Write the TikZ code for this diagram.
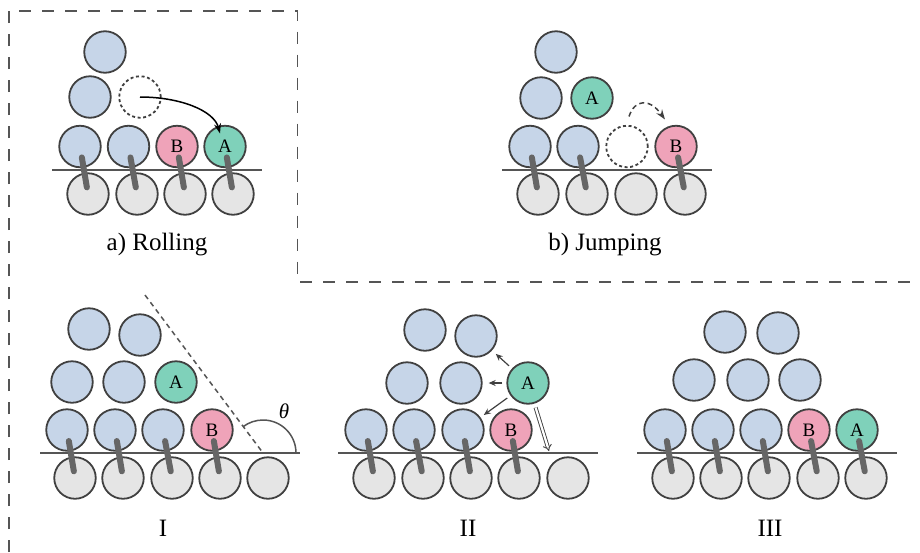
\documentclass[tikz,border=0pt]{standalone}
\usepackage{fontspec}
\setmainfont{Liberation Serif}
\usetikzlibrary{calc,arrows.meta}
\definecolor{edge}{HTML}{404040}
\definecolor{ballblue}{HTML}{C6D5E8}
\definecolor{ballgray}{HTML}{E5E5E5}
\definecolor{ballpink}{HTML}{EFA3B9}
\definecolor{ballgreen}{HTML}{7FD1BA}
\definecolor{stickgray}{HTML}{666666}
\definecolor{linegray}{HTML}{555555}
\tikzset{
  ball/.style={circle,draw=edge,line width=1.8pt,minimum size=41.5pt,inner sep=0pt,font=\fontsize{19}{19}\selectfont},
  blueb/.style={ball,fill=ballblue},
  grayb/.style={ball,fill=ballgray},
  pinkb/.style={ball,fill=ballpink},
  greenb/.style={ball,fill=ballgreen},
  ghost/.style={ball,dash pattern=on 3pt off 2.6pt},
  stick/.style={draw=stickgray,line width=6pt,line cap=round},
  ground/.style={draw=linegray,line width=1.5pt},
  frame/.style={draw=linegray,line width=1.8pt,dash pattern=on 12pt off 11pt},
  lbl/.style={font=\fontsize{25}{25}\selectfont,anchor=base,inner sep=0pt},
  bigarrow/.style={draw=black,line width=1.5pt,-{Stealth[length=10pt,width=7pt]}},
  jumparrow/.style={draw=edge,line width=1.5pt,dash pattern=on 5pt off 3.5pt,-{Stealth[length=10pt,width=7pt]}},
  smallarrow/.style={draw=edge,line width=1.2pt,-{Stealth[length=7pt,width=6pt]}},
  dblarrow/.style={draw=edge,double=white,line width=0.9pt,double distance=2.2pt,-{Implies}},
  slope/.style={draw=linegray,line width=1.5pt,dash pattern=on 5pt off 4pt},
  anglearc/.style={draw=linegray,line width=1.5pt},
}
\newcommand\stk[2]{\draw[stick] ($(#1)!0.23!(#2)$) -- ($(#1)!0.86!(#2)$);}
\begin{document}
\begin{tikzpicture}[x=1pt,y=-1pt]
\useasboundingbox (0,0) rectangle (920,552);
% frame
\draw[frame] (8.7,552) -- (8.7,10.7) -- (297.5,10.7) -- (297.5,282) -- (920,282);

% ---------- a) Rolling ----------
\node[grayb] (ag1) at (88,194) {};
\node[grayb] (ag2) at (137,194) {};
\node[grayb] (ag3) at (185,194) {};
\node[grayb] (ag4) at (233,194) {};
\node[blueb] (ar1) at (80,146.5) {};
\node[blueb] (ar2) at (128.5,146.5) {};
\node[pinkb] (aB) at (177,146.5) {B};
\node[greenb] (aA) at (225,146.5) {A};
\node[blueb] (as1) at (90,97) {};
\node[ghost] (aghost) at (140,97) {};
\node[blueb] (at1) at (105,52) {};
\coordinate (agl) at (52,170);
\coordinate (agr) at (262,170);
\draw[ground] (agl) -- (agr);
\stk{ar1}{ag1}\stk{ar2}{ag2}\stk{aB}{ag3}\stk{aA}{ag4}
\draw[bigarrow] (aghost.center) .. controls ($(aghost.center)+(40,0)$) and ($(aA.center)+(-11,-36)$) .. ($(aA.center)+(-5,-13)$);
\node[lbl] (alab) at (157,250) {a) Rolling};

% ---------- b) Jumping ----------
\node[grayb] (bg1) at (538,194) {};
\node[grayb] (bg2) at (587,194) {};
\node[grayb] (bg3) at (636,194) {};
\node[grayb] (bg4) at (685,194) {};
\node[blueb] (br1) at (530,146.5) {};
\node[blueb] (br2) at (578,146.5) {};
\node[ghost] (bghost) at (627,146.5) {};
\node[pinkb] (bB) at (676,146.5) {B};
\node[blueb] (bs1) at (541,98) {};
\node[greenb] (bA) at (592,98) {A};
\node[blueb] (bt1) at (556,52) {};
\coordinate (bgl) at (502,170);
\coordinate (bgr) at (712,170);
\draw[ground] (bgl) -- (bgr);
\stk{br1}{bg1}\stk{br2}{bg2}\stk{bB}{bg4}
\draw[jumparrow] ($(bghost.center)+(2,-30)$) .. controls ($(bghost.center)+(8,-48)$) and ($(bB.center)+(-26,-48)$) .. ($(bB.center)+(-11,-27)$);
\node[lbl] (blab) at (605,250) {b) Jumping};

% ---------- I ----------
\node[grayb] (ig1) at (75,478) {};
\node[grayb] (ig2) at (123,478) {};
\node[grayb] (ig3) at (172,478) {};
\node[grayb] (ig4) at (220,478) {};
\node[grayb] (ig5) at (268,478) {};
\node[blueb] (ir1) at (67,430) {};
\node[blueb] (ir2) at (115,430) {};
\node[blueb] (ir3) at (163,430) {};
\node[pinkb] (iB) at (212,430) {B};
\node[blueb] (is1) at (72,382) {};
\node[blueb] (is2) at (124,382) {};
\node[greenb] (iA) at (176,382) {A};
\node[blueb] (it1) at (89,329) {};
\node[blueb] (it2) at (140,335) {};
\coordinate (igl) at (40,453);
\coordinate (igr) at (300,453);
\draw[ground] (igl) -- (igr);
\stk{ir1}{ig1}\stk{ir2}{ig2}\stk{ir3}{ig3}\stk{iB}{ig4}
\coordinate (slopetop) at (145,295);
\coordinate (thetaC) at (263,453);
\draw[slope] (slopetop) -- (thetaC);
\draw[anglearc] ($(thetaC)+(33,0)$) arc[start angle=0,end angle=-127,radius=33];
\node[font=\fontsize{21}{21}\selectfont\itshape] (theta) at (284,411) {θ};
\node[lbl] (ilab) at (163,536) {I};

% ---------- II ----------
\node[grayb] (jg1) at (374,478) {};
\node[grayb] (jg2) at (423,478) {};
\node[grayb] (jg3) at (471,478) {};
\node[grayb] (jg4) at (519,478) {};
\node[grayb] (jg5) at (568,478) {};
\node[blueb] (jr1) at (366,430) {};
\node[blueb] (jr2) at (414,430) {};
\node[blueb] (jr3) at (463,430) {};
\node[pinkb] (jB) at (511,430) {B};
\node[blueb] (js1) at (407,383) {};
\node[blueb] (js2) at (461,383) {};
\node[greenb] (jA) at (528,383) {A};
\node[blueb] (jt1) at (425,330) {};
\node[blueb] (jt2) at (476,336) {};
\coordinate (jgl) at (338,453);
\coordinate (jgr) at (598,453);
\draw[ground] (jgl) -- (jgr);
\stk{jr1}{jg1}\stk{jr2}{jg2}\stk{jr3}{jg3}\stk{jB}{jg4}
\draw[smallarrow,shorten <=4pt,shorten >=5pt] (jA) -- (jt2);
\draw[smallarrow,shorten <=4pt,shorten >=6pt] (jA) -- (js2);
\draw[smallarrow,shorten <=4pt,shorten >=4pt] (jA) -- (jr3);
\coordinate (jdrop) at (549,451);
\draw[dblarrow,shorten <=4pt] (jA) -- (jdrop);
\node[lbl] (jlab) at (468,536) {II};

% ---------- III ----------
\node[grayb] (kg1) at (673,478) {};
\node[grayb] (kg2) at (721,478) {};
\node[grayb] (kg3) at (769,478) {};
\node[grayb] (kg4) at (818,478) {};
\node[grayb] (kg5) at (866,478) {};
\node[blueb] (kr1) at (665,430) {};
\node[blueb] (kr2) at (713,430) {};
\node[blueb] (kr3) at (761,430) {};
\node[pinkb] (kB) at (809,430) {B};
\node[greenb] (kA) at (857,430) {A};
\node[blueb] (ks1) at (694,380) {};
\node[blueb] (ks2) at (748,380) {};
\node[blueb] (ks3) at (800,380) {};
\node[blueb] (kt1) at (725,332) {};
\node[blueb] (kt2) at (778,333) {};
\coordinate (kgl) at (637,453);
\coordinate (kgr) at (897,453);
\draw[ground] (kgl) -- (kgr);
\stk{kr1}{kg1}\stk{kr2}{kg2}\stk{kr3}{kg3}\stk{kB}{kg4}\stk{kA}{kg5}
\node[lbl] (klab) at (770,536) {III};
\end{tikzpicture}
\end{document}
